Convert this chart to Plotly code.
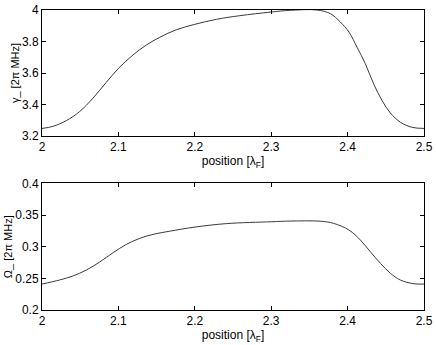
import plotly.graph_objects as go
from plotly.subplots import make_subplots

# position [lambda_F] and gamma_- [2 pi MHz]
pos_top = [2.0, 2.0142, 2.0318, 2.0492, 2.0667, 2.0842, 2.1004, 2.1192, 2.1367, 2.1542,
           2.176, 2.2, 2.2286, 2.259, 2.3, 2.325, 2.36, 2.3773, 2.3904, 2.4018, 2.4123,
           2.4232, 2.4341, 2.4451, 2.456, 2.4692, 2.4845, 2.5]
gamma = [3.248, 3.261, 3.2975, 3.355, 3.44, 3.541, 3.631, 3.715, 3.778, 3.827,
         3.875, 3.909, 3.941, 3.964, 3.987, 3.998, 4.0, 3.977, 3.924, 3.86, 3.764,
         3.659, 3.531, 3.425, 3.346, 3.287, 3.255, 3.248]

# position [lambda_F] and Omega_- [2 pi MHz]
pos_bot = [2.0, 2.023, 2.0404, 2.058, 2.0755, 2.093, 2.1105, 2.128, 2.1455, 2.1673,
           2.2, 2.2416, 2.3, 2.325, 2.364, 2.3815, 2.4018, 2.4167, 2.4298, 2.443,
           2.456, 2.469, 2.4866, 2.5]
omega = [0.241, 0.2474, 0.2537, 0.2631, 0.2758, 0.2905, 0.3037, 0.3132, 0.3195, 0.3245,
         0.331, 0.3365, 0.3394, 0.3405, 0.3403, 0.3369, 0.3263, 0.3105, 0.292, 0.2737,
         0.258, 0.2474, 0.2415, 0.241]

fig = make_subplots(rows=2, cols=1)
fig.add_trace(go.Scatter(x=pos_top, y=gamma, mode="lines",
                         line=dict(color="#3a3a3a", width=1, shape="spline", smoothing=1)),
              row=1, col=1)
fig.add_trace(go.Scatter(x=pos_bot, y=omega, mode="lines",
                         line=dict(color="#3a3a3a", width=1, shape="spline", smoothing=1)),
              row=2, col=1)

ax = dict(showline=True, linecolor="black", linewidth=1, mirror="ticks", ticks="inside",
          ticklen=4, tickcolor="black", showgrid=False, zeroline=False, automargin=False,
          tickfont=dict(size=12, color="black"))
tfont = dict(size=12, color="black")
for r in (1, 2):
    fig.update_xaxes(range=[2, 2.5], dtick=0.1, tick0=2,
                     title=dict(text="position [λ<sub>F</sub>]", standoff=0, font=tfont),
                     row=r, col=1, **ax)
fig.update_yaxes(range=[3.2, 4], dtick=0.2, tick0=3.2,
                 title=dict(text="γ_ [2π MHz]", standoff=0, font=dict(size=11, color="black")),
                 row=1, col=1, **ax)
fig.update_yaxes(range=[0.2, 0.4], dtick=0.05, tick0=0.2,
                 title=dict(text="Ω_ [2π MHz]", standoff=0, font=dict(size=11, color="black")),
                 row=2, col=1, **ax)
fig.update_layout(xaxis=dict(domain=[0, 1]), xaxis2=dict(domain=[0, 1]),
                  yaxis=dict(domain=[0.58, 1]), yaxis2=dict(domain=[0, 0.422]))

fig.update_layout(width=436, height=345, margin=dict(l=42, r=12, t=10, b=35),
                  paper_bgcolor="white", plot_bgcolor="white", showlegend=False,
                  font=dict(family="Liberation Sans, Arial, sans-serif", size=12, color="black"))
fig.write_html("out.html", config={"displayModeBar": False},
               post_script="document.body.style.margin='0';")
